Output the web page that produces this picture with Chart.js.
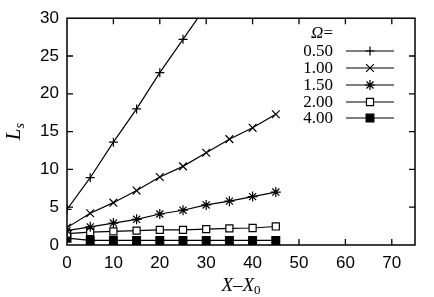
<!DOCTYPE html>
<html>
<head>
<meta charset="utf-8">
<script src="https://cdn.jsdelivr.net/npm/chart.js@4/dist/chart.umd.min.js"></script>
<style>
  html, body { margin: 0; padding: 0; background: #fff; }
  #wrap { width: 434px; height: 297px; }
</style>
</head>
<body>
<div id="wrap"><canvas id="c" width="434" height="297"></canvas></div>
<script>
// ---- data ----
const xValues = [0, 5, 10, 15, 20, 25, 30, 35, 40, 45];
const omegaLabels = ["0.50", "1.00", "1.50", "2.00", "4.00"];
const ls050 = [4.7, 8.9, 13.6, 18.0, 22.8, 27.2, 31.6];
const ls100 = [2.3, 4.2, 5.6, 7.2, 9.0, 10.4, 12.2, 14.0, 15.5, 17.3];
const ls150 = [1.9, 2.4, 2.9, 3.4, 4.1, 4.6, 5.3, 5.8, 6.4, 7.0];
const ls200 = [1.5, 1.7, 1.8, 1.9, 2.0, 2.0, 2.1, 2.2, 2.25, 2.45];
const ls400 = [0.9, 0.6, 0.6, 0.6, 0.6, 0.6, 0.6, 0.6, 0.6, 0.6];
const xTicks = [0, 10, 20, 30, 40, 50, 60, 70];
const yTicks = [0, 5, 10, 15, 20, 25, 30];

const seriesValues = [ls050, ls100, ls150, ls200, ls400];
const styles = [
  { pointStyle: 'cross',    radius: 4.5, fill: '#000' },
  { pointStyle: 'crossRot', radius: 5.5, fill: '#000' },
  { pointStyle: 'star',     radius: 5,   fill: '#000' },
  { pointStyle: 'rect',     radius: 5,   fill: '#fff' },
  { pointStyle: 'rect',     radius: 5.5, fill: '#000' }
];

const datasets = seriesValues.map((vals, i) => ({
  label: omegaLabels[i],
  data: vals.map((v, j) => ({ x: xValues[j], y: v })),
  borderColor: '#000',
  borderWidth: 1.2,
  backgroundColor: styles[i].fill,
  pointStyle: styles[i].pointStyle,
  pointRadius: styles[i].radius,
  pointBorderColor: '#000',
  pointBackgroundColor: styles[i].fill,
  pointBorderWidth: 1.2,
  fill: false,
  tension: 0
}));

const TICK_FONT = { family: 'Liberation Sans, Arial, sans-serif', size: 17 };

const framePlugin = {
  id: 'frame',
  afterDatasetsDraw(chart) {
    const { ctx, chartArea: a, scales } = chart;
    ctx.save();
    ctx.strokeStyle = '#000';
    ctx.lineWidth = 1.5;
    ctx.strokeRect(a.left, a.top, a.right - a.left, a.bottom - a.top);
    ctx.lineWidth = 1.3;
    const L = 6;
    ctx.beginPath();
    xTicks.forEach(v => {
      if (v === 0) return;
      const px = scales.x.getPixelForValue(v);
      ctx.moveTo(px, a.bottom); ctx.lineTo(px, a.bottom - L);
      ctx.moveTo(px, a.top); ctx.lineTo(px, a.top + L);
    });
    yTicks.forEach(v => {
      if (v === 0 || v === 30) return;
      const py = scales.y.getPixelForValue(v);
      ctx.moveTo(a.left, py); ctx.lineTo(a.left + L, py);
      ctx.moveTo(a.right, py); ctx.lineTo(a.right - L, py);
    });
    ctx.stroke();

    // axis titles
    ctx.fillStyle = '#000';
    ctx.textBaseline = 'alphabetic';
    const cx = (a.left + a.right) / 2;
    ctx.font = 'italic 19px "Liberation Serif", "Times New Roman", serif';
    const main = 'X\u2013X';
    const wMain = ctx.measureText(main).width;
    ctx.font = '13px "Liberation Serif", "Times New Roman", serif';
    const wSub = ctx.measureText('0').width;
    const x0 = cx - (wMain + wSub) / 2;
    ctx.font = 'italic 19px "Liberation Serif", "Times New Roman", serif';
    ctx.textAlign = 'left';
    ctx.fillText(main, x0, 291);
    ctx.font = '13px "Liberation Serif", "Times New Roman", serif';
    ctx.fillText('0', x0 + wMain, 294);

    const cy = (a.top + a.bottom) / 2;
    ctx.save();
    ctx.translate(20, cy);
    ctx.rotate(-Math.PI / 2);
    ctx.font = 'italic 21px "Liberation Serif", "Times New Roman", serif';
    const wL = ctx.measureText('L').width;
    ctx.font = 'italic 14px "Liberation Serif", "Times New Roman", serif';
    const wS = ctx.measureText('s').width;
    const sx = -(wL + wS) / 2;
    ctx.font = 'italic 21px "Liberation Serif", "Times New Roman", serif';
    ctx.fillText('L', sx, 0);
    ctx.font = 'italic 14px "Liberation Serif", "Times New Roman", serif';
    ctx.fillText('s', sx + wL, 4);
    ctx.restore();

    // legend
    const textRight = 333, lineL = 346, lineR = 394, mx = 370;
    ctx.textAlign = 'right';
    ctx.textBaseline = 'middle';
    ctx.font = '17px "Liberation Serif", serif';
    const wEq = ctx.measureText('=').width;
    ctx.font = 'italic 17px "Liberation Serif", "Times New Roman", serif';
    ctx.fillText('\u03A9', textRight - wEq, 34);
    ctx.font = '17px "Liberation Serif", "Times New Roman", serif';
    ctx.fillText('=', textRight, 34);
    const rows = [51, 68, 85, 102, 118];
    chart.data.datasets.forEach((ds, i) => {
      const y = rows[i];
      ctx.font = '17px "Liberation Serif", "Times New Roman", serif';
      ctx.fillStyle = '#000';
      ctx.fillText(ds.label, textRight, y + 1);
      ctx.lineWidth = 1.2;
      ctx.strokeStyle = '#000';
      ctx.beginPath();
      ctx.moveTo(lineL, y); ctx.lineTo(lineR, y);
      ctx.stroke();
      ctx.fillStyle = ds.pointBackgroundColor;
      ctx.lineWidth = 1.2;
      if (Chart.helpers && Chart.helpers.drawPoint) {
        Chart.helpers.drawPoint(ctx, { pointStyle: ds.pointStyle, radius: ds.pointRadius, rotation: 0, borderWidth: 1.2 }, mx, y);
      }
    });
    ctx.restore();
  }
};

new Chart(document.getElementById('c'), {
  type: 'line',
  data: { datasets },
  plugins: [framePlugin],
  options: {
    responsive: false,
    animation: false,
    devicePixelRatio: 1,
    layout: { padding: { top: 9, right: 19, left: 0, bottom: 0 } },
    plugins: { legend: { display: false }, tooltip: { enabled: false }, title: { display: false } },
    scales: {
      x: {
        type: 'linear', min: 0, max: 75,
        afterBuildTicks: s => { s.ticks = xTicks.map(v => ({ value: v })); },
        afterFit: s => { s.height = 52; },
        ticks: { color: '#000', font: TICK_FONT, padding: 8, maxRotation: 0, autoSkip: false },
        grid: { display: false, drawTicks: false },
        border: { display: false }
      },
      y: {
        type: 'linear', min: 0, max: 30,
        afterBuildTicks: s => { s.ticks = yTicks.map(v => ({ value: v })); },
        afterFit: s => { s.width = 67; },
        ticks: { color: '#000', font: TICK_FONT, padding: 8, autoSkip: false },
        grid: { display: false, drawTicks: false },
        border: { display: false }
      }
    }
  }
});
</script>
</body>
</html>
